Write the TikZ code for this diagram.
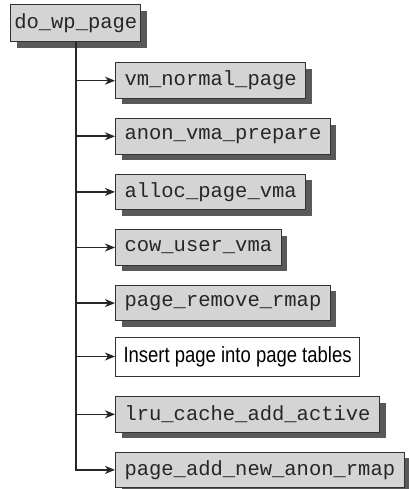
\documentclass[tikz,border=0pt]{standalone}
\usepackage{fontspec}
\setmonofont{Liberation Mono}
\newfontfamily\smalsans[FakeStretch=0.84]{Liberation Sans}
\usetikzlibrary{arrows.meta,shadows}

\begin{document}
\begin{tikzpicture}[x=1pt,y=1pt]
    \useasboundingbox (0,0) rectangle (408,-489);

    % Stijlen
    \tikzset{
        func/.style={draw=black!80, fill=black!17, line width=1pt,
            inner xsep=9pt, minimum height=35.5pt, text=black!85,
            font=\ttfamily\fontsize{20.5}{24}\selectfont,
            drop shadow={shadow xshift=6pt, shadow yshift=-6pt, fill=black!65, opacity=1}},
        stap/.style={draw=black!80, fill=white, line width=1pt,
            inner xsep=8pt, minimum height=39pt,
            font=\smalsans\fontsize{22}{26}\selectfont},
        pijl/.style={-{Stealth[length=10pt,width=8pt,inset=3pt]}, line width=1.6pt, black!85}
    }

    % Hoofdfunctie
    \node[func, inner xsep=3.5pt, minimum height=37pt] (wp) at (75.8,-23.3) {do\_wp\_page};

    % Aanroepen
    \node[func, anchor=west] (vm)  at (115,-80.7)  {vm\_normal\_page};
    \node[func, anchor=west] (av)  at (115,-136.3) {anon\_vma\_prepare};
    \node[func, anchor=west] (ap)  at (115,-191.9) {alloc\_page\_vma};
    \node[func, anchor=west] (cu)  at (115,-247.5) {cow\_user\_vma};
    \node[func, anchor=west] (rr)  at (115,-303.1) {page\_remove\_rmap};
    \node[stap, anchor=west] (ins) at (115,-356.5) {Insert page into page tables};
    \node[func, anchor=west] (lru) at (115,-414.3) {lru\_cache\_add\_active};
    \node[func, anchor=west] (pa)  at (115,-469.9) {page\_add\_new\_anon\_rmap};

    % Verbindingen
    \draw[line width=2.2pt, black!85] (wp.south) -- ([yshift=-0.8pt]wp.south |- pa.west);
    \foreach \n in {vm,av,ap,cu,rr,ins,lru,pa}
        \draw[pijl] (wp.south |- \n.west) -- (\n.west);
\end{tikzpicture}
\end{document}
